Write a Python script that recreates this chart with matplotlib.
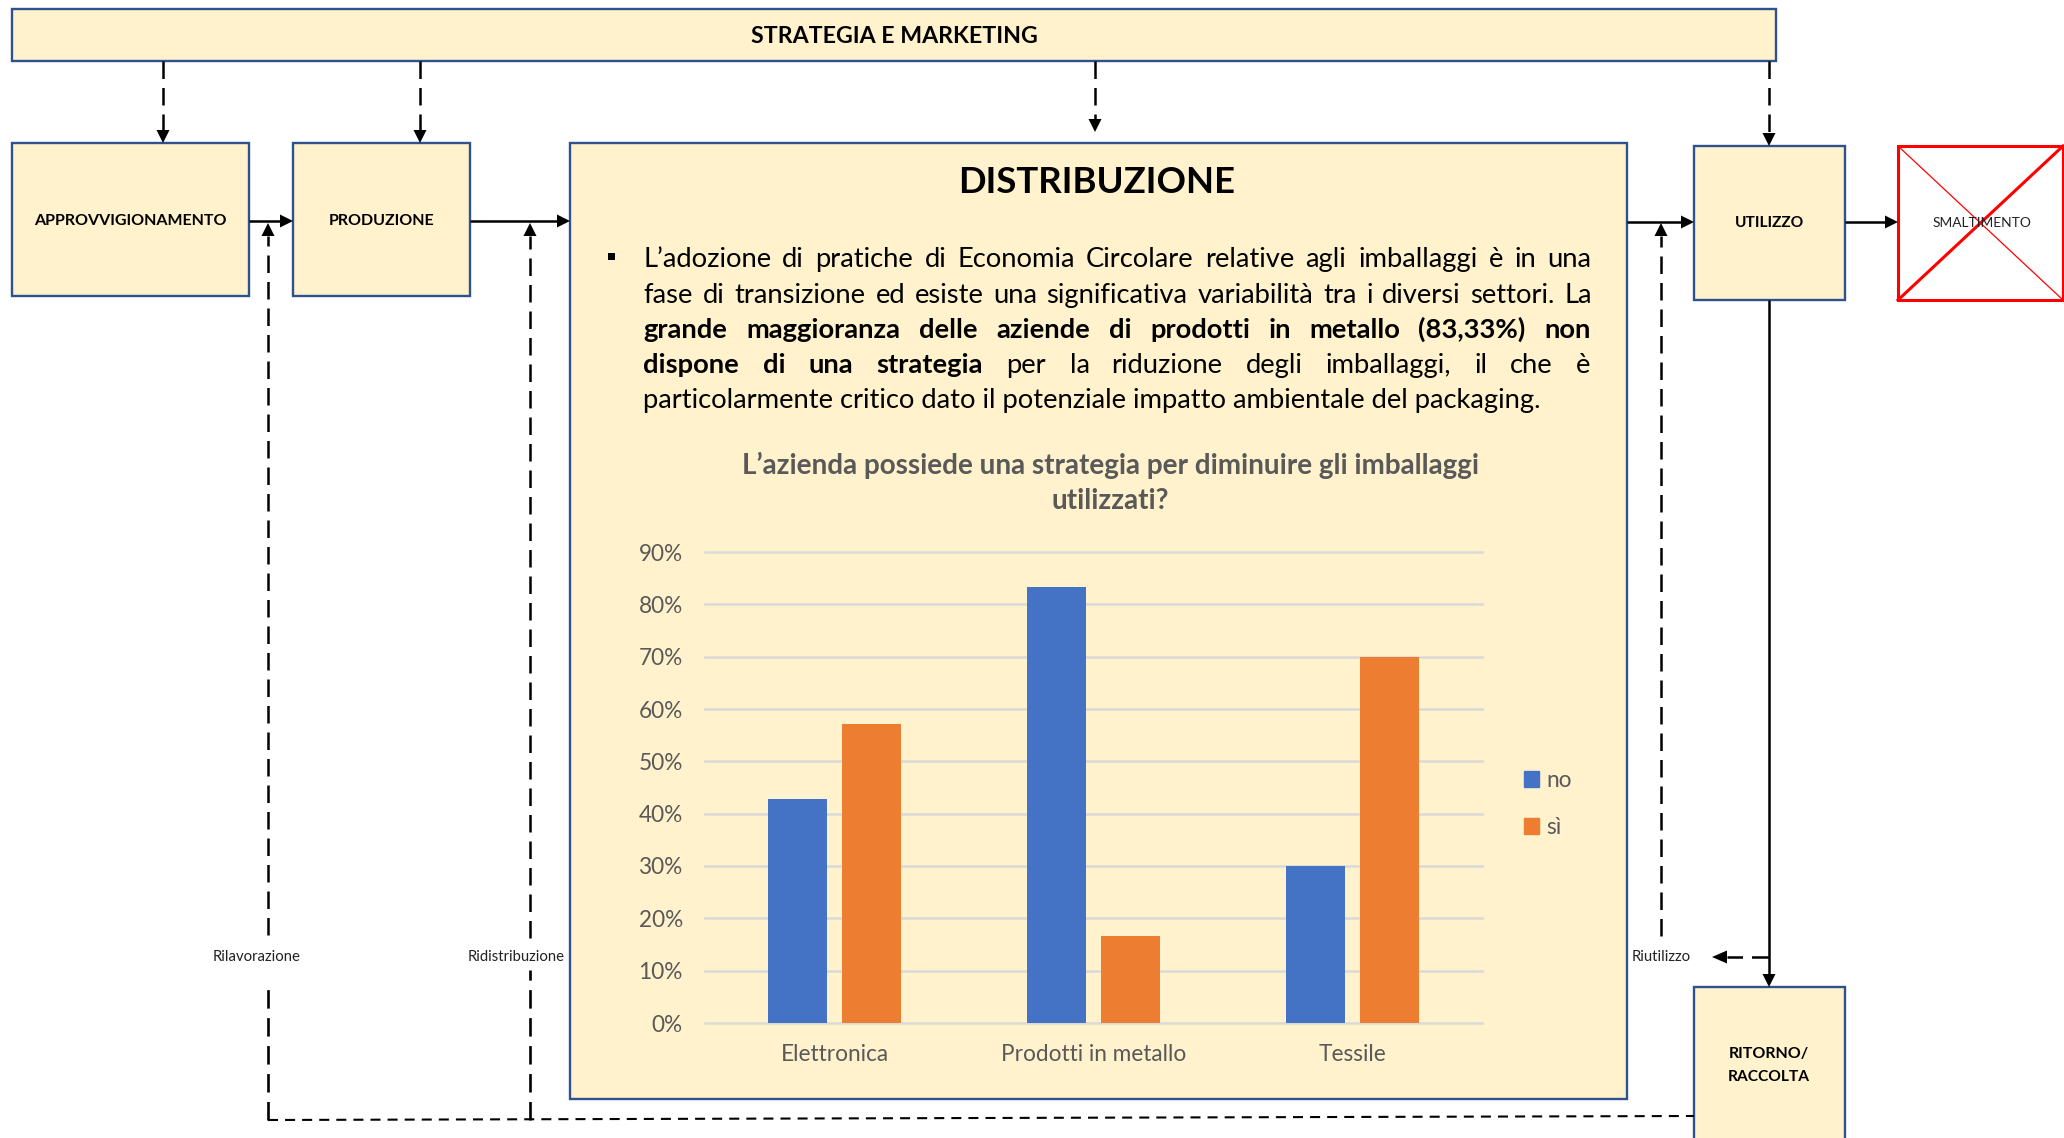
"""Supply-chain diagram with the DISTRIBUZIONE panel and its packaging-strategy bar chart."""
import matplotlib
matplotlib.use("Agg")
import matplotlib.pyplot as plt
import numpy as np
from matplotlib.patches import Rectangle, Polygon, Patch
from matplotlib.textpath import TextPath
from matplotlib.font_manager import FontProperties

W, H = 2064, 1138
FONT = ["Lato", "DejaVu Sans"]
plt.rcParams["font.family"] = FONT

BOX_FILL = "#FFF2CC"
BOX_EDGE = "#2F528F"
GREY = "#595959"
BLUE = "#4472C4"
ORANGE = "#ED7D31"

# chart data
CATEGORIES = ["Elettronica", "Prodotti in metallo", "Tessile"]
SERIES = ["no", "sì"]
VALUES_NO = [42.86, 83.33, 30.0]
VALUES_SI = [57.14, 16.67, 70.0]
Y_TICKS = [0, 10, 20, 30, 40, 50, 60, 70, 80, 90]
CHART_TITLE = ["L’azienda possiede una strategia per diminuire gli imballaggi",
               "utilizzati?"]

# paragraph: each line is a list of (text, bold) segments
PARAGRAPH = [
    [("L’adozione di pratiche di Economia Circolare relative agli imballaggi è in una", False)],
    [("fase di transizione ed esiste una significativa variabilità tra i diversi settori. La", False)],
    [("grande maggioranza delle aziende di prodotti in metallo (83,33%) non", True)],
    [("dispone di una strategia", True), ("per la riduzione degli imballaggi, il che è", False)],
    [("particolarmente critico dato il potenziale impatto ambientale del packaging.", False)],
]


def ink_width(text, size, bold=False):
    prop = FontProperties(family=FONT, weight="bold" if bold else "normal")
    ext = TextPath((0, 0), text, size=size, prop=prop).get_extents()
    return ext.width * 100 / 72


def fit(text, target_px, bold=False):
    return 10 * target_px / ink_width(text, 10, bold)


def arrow(ax, x0, y0, x1, y1, ls="-", lw=1.8, head=13, hw=13):
    d = np.hypot(x1 - x0, y1 - y0)
    ux, uy = (x1 - x0) / d, (y1 - y0) / d
    bx, by = x1 - ux * head, y1 - uy * head
    ax.plot([x0, bx], [y0, by], color="black", lw=lw, ls=ls,
            solid_capstyle="butt", dash_capstyle="butt")
    px, py = -uy * hw / 2, ux * hw / 2
    ax.add_patch(Polygon([(x1, y1), (bx + px, by + py), (bx - px, by - py)],
                         closed=True, fc="black", ec="none"))


def box(ax, x0, y0, x1, y1):
    ax.add_patch(Rectangle((x0, y0), x1 - x0, y1 - y0, fc=BOX_FILL,
                           ec=BOX_EDGE, lw=1.7))


def label(ax, x, y, text, width, bold=True, color="black", **kw):
    ax.text(x, y, text, fontsize=fit(text, width, bold), color=color,
            fontweight="bold" if bold else "normal", ha="center", va="center", **kw)


fig = plt.figure(figsize=(W / 100, H / 100), dpi=100)
ax = fig.add_axes([0, 0, 1, 1])
ax.set_xlim(0, W)
ax.set_ylim(H, 0)
ax.axis("off")

DASH = (0, (7, 3.6))
SHORT_DASH = (0, (4.8, 3.4))

# boxes
box(ax, 12, 9, 1776, 61)
box(ax, 12, 143, 249, 296)
box(ax, 293, 143, 470, 296)
box(ax, 570, 143, 1627, 1099)
box(ax, 1694, 146, 1845, 300)
box(ax, 1694, 987, 1845, 1150)

# SMALTIMENTO (crossed out)
ax.add_patch(Rectangle((1898, 146), 165, 154, fc="white", ec="#FF0000", lw=2.2))
ax.plot([1898, 2063], [146, 300], color="#FF0000", lw=0.9)
ax.plot([1898, 2063], [300, 146], color="#FF0000", lw=2.2)
label(ax, 1982, 223, "SMALTIMENTO", 98, bold=False, color="#222222")

label(ax, 894, 36, "STRATEGIA E MARKETING", 284)
label(ax, 130.5, 221, "APPROVVIGIONAMENTO", 192)
label(ax, 381.5, 221, "PRODUZIONE", 104)
label(ax, 1769, 223, "UTILIZZO", 68)
label(ax, 1769, 1054, "RITORNO/", 79)
label(ax, 1769, 1077, "RACCOLTA", 81)

# strategy arrows
for xa, ya in [(163, 143), (420, 143), (1095, 132), (1769, 146)]:
    arrow(ax, xa, 61, xa, ya, ls=DASH)

# main flow
arrow(ax, 249, 221, 293, 221)
arrow(ax, 470, 221, 570, 221)
arrow(ax, 1627, 222, 1694, 222)
arrow(ax, 1845, 222, 1898, 222)
arrow(ax, 1769, 300, 1769, 987)

# return flows
for xa, gap_top, gap_bot, text, tw in [(268, 935, 982, "Rilavorazione", 86),
                                       (530, 938, 970, "Ridistribuzione", 95)]:
    ax.plot([xa, xa], [1120, gap_bot], color="black", lw=1.9, ls=DASH)
    arrow(ax, xa, gap_top, xa, 223, ls=DASH)
    label(ax, xa - 11 if xa == 268 else xa - 14, 957, text, tw, bold=False, color="#222222")
arrow(ax, 1661, 936, 1661, 223, ls=DASH)
label(ax, 1661, 957, "Riutilizzo", 57, bold=False, color="#222222")
arrow(ax, 1769, 957, 1712, 957, ls=DASH, head=15)
ax.plot([268, 1694], [1120, 1116], color="black", lw=1.5, ls=SHORT_DASH)

# DISTRIBUZIONE panel text
ax.text(1097, 193, "DISTRIBUZIONE", fontsize=fit("DISTRIBUZIONE", 273, True),
        fontweight="bold", ha="center", va="baseline")

PL, PR = 643, 1588
BASES = [267, 303, 338, 373, 408]
p_size = fit(PARAGRAPH[-1][0][0], 898)
ax.add_patch(Rectangle((608, 253), 7, 7, fc="black", ec="none"))
for i, (line, base) in enumerate(zip(PARAGRAPH, BASES)):
    if i == len(PARAGRAPH) - 1:
        ax.text(PL, base, line[0][0], fontsize=p_size, ha="left", va="baseline")
        continue
    words = [(w, b) for seg, b in line for w in seg.split()]
    widths = [ink_width(w, p_size, b) for w, b in words]
    gap = (PR - PL - sum(widths)) / (len(words) - 1)
    xw = PL
    for (w, b), wd in zip(words, widths):
        ax.text(xw, base, w, fontsize=p_size, fontweight="bold" if b else "normal",
                ha="left", va="baseline")
        xw += wd + gap

t_size = fit(CHART_TITLE[0], 733, True)
for txt, base in zip(CHART_TITLE, [474, 509]):
    ax.text(1110, base, txt, fontsize=t_size, fontweight="bold", color=GREY,
            ha="center", va="baseline")

# bar chart
cax = fig.add_axes([705 / W, 1 - 1023 / H, 777 / W, 471 / H])
cax.set_facecolor("none")
x = np.arange(len(CATEGORIES))
bw, off = 0.228, 0.142
cax.bar(x - off, VALUES_NO, bw, color=BLUE, zorder=3)
cax.bar(x + off, VALUES_SI, bw, color=ORANGE, zorder=3)
cax.set_xlim(-0.5, len(CATEGORIES) - 0.5)
cax.set_ylim(0, 90)
cax.set_yticks(Y_TICKS)
tick_size = fit("Prodotti in metallo", 182)
cax.set_yticklabels([f"{v}%" for v in Y_TICKS], fontsize=tick_size, color=GREY)
cax.set_xticks(x)
cax.set_xticklabels(CATEGORIES, fontsize=tick_size, color=GREY)
cax.yaxis.grid(True, color="#D9D9D9", lw=1.8, clip_on=False)
cax.set_axisbelow(True)
for s in cax.spines.values():
    s.set_visible(False)
cax.tick_params(axis="y", length=0, pad=16)
cax.tick_params(axis="x", length=0, pad=15)

handles = [Patch(color=BLUE), Patch(color=ORANGE)]
cax.legend(handles, SERIES, loc="center left", bbox_to_anchor=(1.054, 0.465),
           frameon=False, fontsize=tick_size, handlelength=0.68, handleheight=0.68,
           handletextpad=0.3, labelspacing=1.15, borderpad=0, borderaxespad=0,
           labelcolor=GREY)

fig.savefig("out.png", dpi=100, facecolor="white")
